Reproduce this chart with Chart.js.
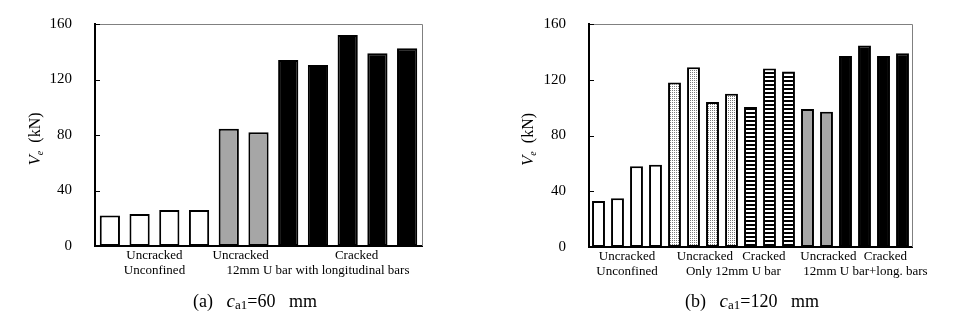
<!DOCTYPE html>
<html>
<head>
<meta charset="utf-8">
<script src="https://cdn.jsdelivr.net/npm/chart.js@4/dist/chart.umd.min.js"></script>
<style>
  html, body { margin: 0; padding: 0; background: #fff; }
  #wrap { position: relative; width: 957px; height: 324px; overflow: hidden; }
  .box { position: absolute; top: 0; height: 324px; }
  #boxA { left: 0; width: 478px; }
  #boxB { left: 478px; width: 479px; }
</style>
</head>
<body>
<div id="wrap">
  <div class="box" id="boxA"><canvas id="chartA"></canvas></div>
  <div class="box" id="boxB"><canvas id="chartB"></canvas></div>
</div>
<script>
// ── Data ─────────────────────────────────────────────────────────────────────
var yTicks = [0, 40, 80, 120, 160];

// (a) c_a1 = 60 mm
var valuesA = [22, 23, 26, 26, 84.5, 82, 134, 130.5, 152, 139, 142.5];
var fillsA  = ['white', 'white', 'white', 'white', 'gray', 'gray',
               'black', 'black', 'black', 'black', 'black'];
var groupTextA = ['Uncracked', 'Unconfined', 'Uncracked', 'Cracked',
                  '12mm U bar with longitudinal bars'];
var groupAtA   = [1.5, 1.5, 4.4, 8.3, 7.0];   // bar index under which text is centred
var groupRowA  = [0, 1, 0, 0, 1];

// (b) c_a1 = 120 mm
var valuesB = [33, 35, 58, 59, 118, 129, 104, 110, 100.5, 128, 126,
               99, 97, 137, 144.5, 137, 139];
var fillsB  = ['white', 'white', 'white', 'white', 'dots', 'dots', 'dots', 'dots',
               'stripes', 'stripes', 'stripes', 'gray', 'gray',
               'black', 'black', 'black', 'black'];
var groupTextB = ['Uncracked', 'Unconfined', 'Uncracked', 'Cracked', 'Only 12mm U bar',
                  'Uncracked', 'Cracked', '12mm U bar+long. bars'];
var groupAtB   = [1.5, 1.5, 5.6, 8.7, 7.1, 12.1, 15.1, 14.05];
var groupRowB  = [0, 1, 0, 0, 1, 0, 0, 1];

// ── Fill patterns ────────────────────────────────────────────────────────────
function makePattern(w, h, paint) {
  var c = document.createElement('canvas');
  c.width = w; c.height = h;
  var g = c.getContext('2d');
  g.fillStyle = '#fff';
  g.fillRect(0, 0, w, h);
  paint(g);
  return g.createPattern(c, 'repeat');
}

var fillStyles = {
  white: '#ffffff',
  gray: '#a6a6a6',
  black: '#000000',
  dots: makePattern(2, 2, function (g) { g.fillStyle = '#7a7a7a'; g.fillRect(0, 0, 1, 1); }),
  stripes: makePattern(1, 4, function (g) { g.fillStyle = '#000'; g.fillRect(0, 0, 1, 2); })
};

// ── Plugins ─────────────────────────────────────────────────────────────────
var SERIF = '"Liberation Serif", "DejaVu Serif", serif';

// frame (gray top/right), inward tick marks, group labels, y title, caption
var decorPlugin = {
  id: 'decor',
  afterDraw: function (chart) {
    var o = chart.options.plugins.decor;
    var ctx = chart.ctx, a = chart.chartArea;
    var xs = chart.scales.x, ys = chart.scales.y;
    ctx.save();

    // frame
    ctx.strokeStyle = '#808080';
    ctx.lineWidth = 1;
    ctx.beginPath();
    ctx.moveTo(a.left, a.top + 0.5);
    ctx.lineTo(a.right + 0.5, a.top + 0.5);
    ctx.lineTo(a.right + 0.5, a.bottom);
    ctx.stroke();

    // inward ticks
    ctx.strokeStyle = '#000';
    ctx.beginPath();
    yTicks.forEach(function (v) {
      var y = Math.round(ys.getPixelForValue(v)) + 0.5;
      ctx.moveTo(a.left, y);
      ctx.lineTo(a.left + 5, y);
    });
    ctx.stroke();

    // group labels under the axis
    ctx.fillStyle = '#000';
    ctx.font = '13px ' + SERIF;
    ctx.textAlign = 'center';
    ctx.textBaseline = 'middle';
    o.texts.forEach(function (t, i) {
      var x = xs.getPixelForValue(o.at[i]);
      var y = a.bottom + (o.rows[i] === 0 ? 10 : 25);
      ctx.fillText(t, x, y);
    });

    // y title: V_e (kN), rotated
    ctx.translate(o.titleX, (a.top + a.bottom) / 2 + 4);
    ctx.rotate(-Math.PI / 2);
    var parts = [
      { t: 'V', f: 'italic 17px ' + SERIF, dy: 0 },
      { t: 'e', f: 'italic 10px ' + SERIF, dy: 4 },
      { t: '  (kN)', f: '16px ' + SERIF, dy: 0 }
    ];
    drawParts(ctx, parts, 0, 0);
    ctx.setTransform(1, 0, 0, 1, 0, 0);

    // caption
    var cap = [
      { t: '(' + o.tag + ')   ', f: '18px ' + SERIF, dy: 0 },
      { t: 'c', f: 'italic 19px ' + SERIF, dy: 0 },
      { t: 'a1', f: '13px ' + SERIF, dy: 4 },
      { t: '=' + o.size + '   mm', f: '18px ' + SERIF, dy: 0 }
    ];
    drawParts(ctx, cap, o.captionX, 302);
    ctx.restore();
  }
};

function drawParts(ctx, parts, cx, cy) {
  var total = 0;
  parts.forEach(function (p) { ctx.font = p.f; p.w = ctx.measureText(p.t).width; total += p.w; });
  var x = cx - total / 2;
  ctx.textAlign = 'left';
  ctx.textBaseline = 'middle';
  parts.forEach(function (p) {
    ctx.font = p.f;
    ctx.fillText(p.t, x, cy + p.dy);
    x += p.w;
  });
}

// ── Chart builder ────────────────────────────────────────────────────────────
function build(id, values, fills, pad, axisW, decor) {
  var labels = values.map(function (v, i) { return String(i + 1); });
  return new Chart(document.getElementById(id), {
    type: 'bar',
    data: {
      labels: labels,
      datasets: [{
        data: values,
        backgroundColor: fills.map(function (f) { return fillStyles[f]; }),
        borderColor: '#000',
        borderWidth: 2,
        borderSkipped: false,
        categoryPercentage: 1,
        barPercentage: 0.68
      }]
    },
    options: {
      responsive: true,
      maintainAspectRatio: false,
      animation: false,
      layout: { padding: pad },
      plugins: {
        legend: { display: false },
        tooltip: { enabled: false },
        decor: decor
      },
      scales: {
        x: {
          ticks: { display: false },
          grid: { display: false },
          border: { color: '#000', width: 2 },
          afterFit: function (s) { s.height = 0; }
        },
        y: {
          min: 0, max: 160,
          afterBuildTicks: function (s) { s.ticks = yTicks.map(function (v) { return { value: v }; }); },
          ticks: { padding: 15, color: '#000', font: { family: SERIF, size: 15 } },
          grid: { display: false },
          border: { color: '#000', width: 2 },
          afterFit: function (s) { s.width = axisW; }
        }
      }
    },
    plugins: [decorPlugin]
  });
}

build('chartA', valuesA, fillsA, { left: 0, top: 24, right: 56, bottom: 78 }, 95, {
  texts: groupTextA, at: groupAtA, rows: groupRowA,
  titleX: 36, captionX: 255, tag: 'a', size: '60'
});

build('chartB', valuesB, fillsB, { left: 0, top: 24, right: 45, bottom: 77 }, 111, {
  texts: groupTextB, at: groupAtB, rows: groupRowB,
  titleX: 51, captionX: 274, tag: 'b', size: '120'
});
</script>
</body>
</html>
